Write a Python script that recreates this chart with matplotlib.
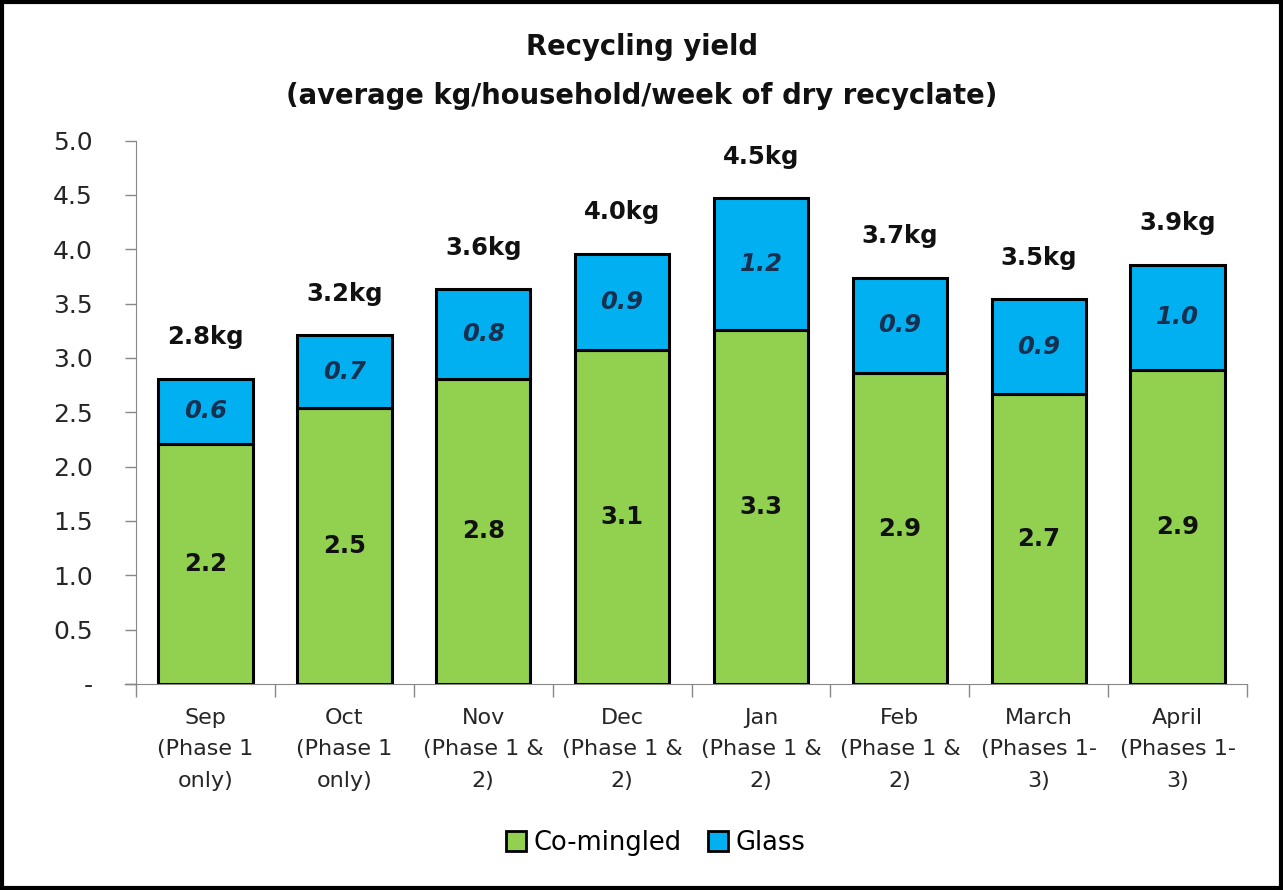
import matplotlib.pyplot as plt
import numpy as np
from matplotlib.patches import Rectangle, Patch

# Data
months = ["Sep\n(Phase 1\nonly)", "Oct\n(Phase 1\nonly)", "Nov\n(Phase 1 &\n2)",
          "Dec\n(Phase 1 &\n2)", "Jan\n(Phase 1 &\n2)", "Feb\n(Phase 1 &\n2)",
          "March\n(Phases 1-\n3)", "April\n(Phases 1-\n3)"]
comingled = np.array([2.21, 2.54, 2.81, 3.07, 3.26, 2.86, 2.67, 2.89])
glass = np.array([0.60, 0.67, 0.82, 0.89, 1.21, 0.88, 0.87, 0.97])
yticks = [0, 0.5, 1.0, 1.5, 2.0, 2.5, 3.0, 3.5, 4.0, 4.5, 5.0]
ytick_labels = ["-", "0.5", "1.0", "1.5", "2.0", "2.5", "3.0", "3.5", "4.0", "4.5", "5.0"]

green = "#92D050"
blue = "#00B0F0"
plt.rcParams['font.family'] = ['DejaVu Sans']

fig = plt.figure(figsize=(12.83, 8.90), dpi=100)
ax = fig.add_axes([0.106, 0.2315, 0.866, 0.6105])

x = np.arange(len(months))
w = 0.68
ax.bar(x, comingled, w, color=green, edgecolor="black", linewidth=2.2, zorder=3)
ax.bar(x, glass, w, bottom=comingled, color=blue, edgecolor="black", linewidth=2.2, zorder=3)

total = comingled + glass
for i in range(len(x)):
    ax.text(x[i], comingled[i] / 2, f"{comingled[i]:.1f}", ha="center", va="center",
            fontsize=17.5, fontweight="bold", color="#111111", zorder=4)
    ax.text(x[i], comingled[i] + glass[i] / 2, f"{glass[i]:.1f}", ha="center", va="center",
            fontsize=17.5, fontweight="bold", style="italic", color="#17304F", zorder=4)
    ax.annotate(f"{total[i]:.1f}kg", (x[i], total[i]), xytext=(0, 21),
                textcoords="offset points", ha="center", va="bottom",
                fontsize=17.5, fontweight="bold", color="#111111")

ax.set_xlim(-0.5, len(x) - 0.5)
ax.set_ylim(0, 5.0)
ax.set_yticks(yticks)
ax.set_yticklabels(ytick_labels)
ax.tick_params(axis="y", length=8, width=1, color="#888888", pad=23,
               labelsize=18, labelcolor="#262626")

# boundary ticks on x axis, labels centered
ax.set_xticks(np.arange(-0.5, len(x)), minor=False)
ax.set_xticklabels([])
ax.set_xticks(x, minor=True)
ax.set_xticklabels(months, minor=True)
ax.tick_params(axis="x", which="major", length=9, width=1, color="#888888", direction="out")
ax.tick_params(axis="x", which="minor", length=0, pad=17, labelsize=16, labelcolor="#262626")
for lab in ax.get_xticklabels(minor=True):
    lab.set_linespacing(1.72)

for s in ["top", "right"]:
    ax.spines[s].set_visible(False)
ax.spines["left"].set_color("#888888")
ax.spines["bottom"].set_color("#888888")
ax.plot([-0.58, -0.5], [0, 0], color="#888888", lw=1, clip_on=False)

# Title
fig.text(0.5, 0.947, "Recycling yield", ha="center", va="center",
         fontsize=19.8, fontweight="bold", color="#111111")
fig.text(0.5, 0.892, "(average kg/household/week of dry recyclate)", ha="center",
         va="center", fontsize=19.8, fontweight="bold", color="#111111")

# Legend
handles = [Patch(facecolor=green, edgecolor="black", linewidth=2, label="Co-mingled"),
           Patch(facecolor=blue, edgecolor="black", linewidth=2, label="Glass")]
fig.legend(handles=handles, loc="center", bbox_to_anchor=(0.511, 0.053), ncol=2,
           frameon=False, fontsize=18.5, handlelength=0.8, handleheight=0.8,
           handletextpad=0.3, columnspacing=1.0)

# Outer border
fig.patches.append(Rectangle((0.0015, 0.002), 0.997, 0.996, transform=fig.transFigure,
                             fill=False, edgecolor="black", linewidth=3))

fig.savefig("out.png", dpi=100)
